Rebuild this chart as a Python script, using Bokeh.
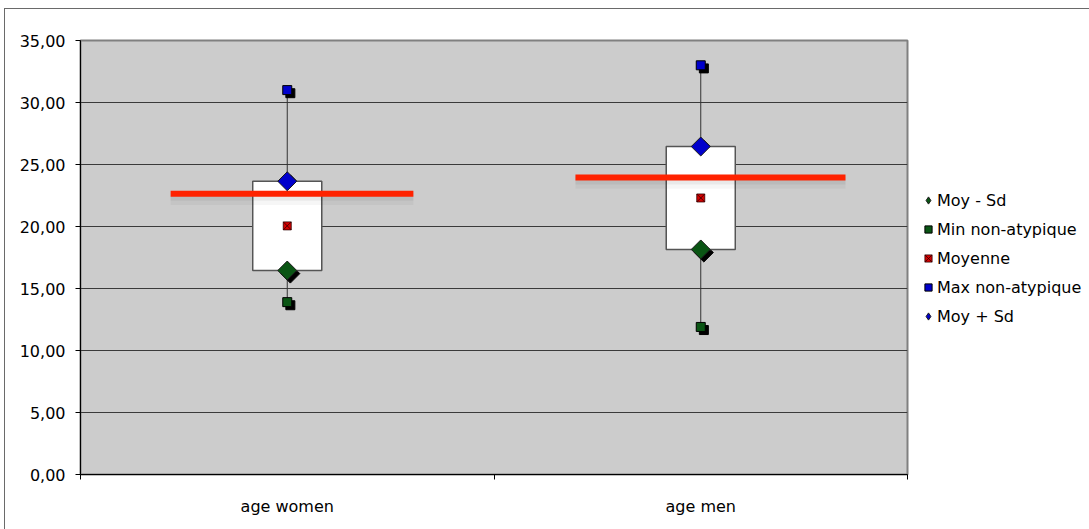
from bokeh.plotting import figure
from bokeh.models import ColumnDataSource, FixedTicker, Legend, LegendItem
from bokeh.transform import dodge
from bokeh.embed import file_html
from bokeh.resources import INLINE
import math

# ---- data ----
categories = ["age women", "age men"]
moy_moins_sd = [16.45, 18.15]
min_non_atypique = [13.9, 11.9]
moyenne = [20.05, 22.3]
max_non_atypique = [31.0, 33.0]
moy_plus_sd = [23.65, 26.45]
ligne_moyenne = [22.65, 23.95]
y_ticks = [0, 5, 10, 15, 20, 25, 30, 35]

FONT = "DejaVu Sans"

# category i is centred on i + 0.5 of a numeric axis running 0..n
xc = [i + 0.5 for i in range(len(categories))]
# horizontal extent of the red reference line around each category centre
line_left = [-0.282, -0.303]
line_right = [0.305, 0.350]

src = ColumnDataSource(dict(
    x=xc,
    lo=moy_moins_sd, mn=min_non_atypique, moy=moyenne,
    mx=max_non_atypique, hi=moy_plus_sd,
    ref=ligne_moyenne,
    x0=[c + a for c, a in zip(xc, line_left)],
    x1=[c + b for c, b in zip(xc, line_right)],
))

p = figure(frame_width=827, frame_height=434, output_backend="svg", toolbar_location=None,
           x_range=(0, len(categories)), y_range=(0, 35),
           min_border_left=75, min_border_right=177,
           min_border_top=31, min_border_bottom=55,
           background_fill_color="#cccccc", border_fill_color="white",
           outline_line_color="#808080", outline_line_width=2)

# outer chart frame (top and left edges visible in the window)
p.styles = {"margin-left": "4px", "margin-top": "8px",
            "border-left": "1px solid #6a6a6a", "border-top": "1px solid #6a6a6a"}

# grid
p.xgrid.grid_line_color = None
p.ygrid.ticker = FixedTicker(ticks=y_ticks)
p.ygrid.grid_line_color = "#3a3a3a"
p.ygrid.grid_line_width = 1

# y axis
p.yaxis.ticker = FixedTicker(ticks=y_ticks)
p.yaxis.major_label_overrides = {t: f"{t:.2f}".replace(".", ",") for t in y_ticks}
p.yaxis.axis_line_color = "black"
p.yaxis.major_tick_out = 5
p.yaxis.major_tick_in = 0
p.yaxis.minor_tick_line_color = None
p.yaxis.major_label_standoff = 10
p.yaxis.major_label_text_font = FONT
p.yaxis.major_label_text_font_size = "16px"
p.yaxis.major_label_text_color = "black"

# x axis: labels at category centres, tick marks between categories
p.xaxis.ticker = FixedTicker(ticks=xc, minor_ticks=list(range(len(categories) + 1)))
p.xaxis.major_label_overrides = {c: name for c, name in zip(xc, categories)}
p.xaxis.major_tick_out = 0
p.xaxis.major_tick_in = 0
p.xaxis.minor_tick_out = 5
p.xaxis.minor_tick_in = 0
p.xaxis.minor_tick_line_color = "black"
p.xaxis.axis_line_color = "black"
p.xaxis.major_label_standoff = 17
p.xaxis.major_label_text_font = FONT
p.xaxis.major_label_text_font_size = "16px"
p.xaxis.major_label_text_color = "black"

# whiskers from min to max
p.segment(x0="x", y0="mn", x1="x", y1="mx", source=src,
          line_color="#333333", line_width=1)

# marker shadows
sx = dodge("x", 0.0075)
p.scatter(x=sx, y=dodge("mn", -0.25), source=src, marker="square", size=9,
          fill_color="black", line_color="black")
p.scatter(x=sx, y=dodge("mx", -0.25), source=src, marker="square", size=9,
          fill_color="black", line_color="black")
p.scatter(x=sx, y=dodge("lo", -0.25), source=src, marker="square", size=13.4,
          angle=math.pi / 4, fill_color="black", line_color="black")
p.scatter(x=sx, y=dodge("hi", -0.25), source=src, marker="square", size=13.4,
          angle=math.pi / 4, fill_color="black", line_color="black")

# box from (mean - sd) to (mean + sd)
p.vbar(x="x", width=0.167, bottom="lo", top="hi", source=src,
       fill_color="white", line_color="#555555", line_width=1.5)

# red reference line with its soft shadow
p.segment(x0="x0", y0=dodge("ref", -0.35), x1="x1", y1=dodge("ref", -0.35), source=src,
          line_color="black", line_alpha=0.035, line_width=14)
p.segment(x0="x0", y0=dodge("ref", -0.25), x1="x1", y1=dodge("ref", -0.25), source=src,
          line_color="black", line_alpha=0.05, line_width=8)
p.segment(x0="x0", y0="ref", x1="x1", y1="ref", source=src,
          line_color="#ff2200", line_width=6)

GREEN, BLUE, RED = "#0a5514", "#0000cc", "#d40000"

# diamond keys for the legend: same points, covered by the larger rotated squares
k_lo = p.scatter(x="x", y="lo", source=src, marker="diamond", size=12,
                 fill_color=GREEN, line_color="#1a1a1a", line_width=1)
k_hi = p.scatter(x="x", y="hi", source=src, marker="diamond", size=12,
                 fill_color=BLUE, line_color="#1a1a1a", line_width=1)

# markers
r_lo = p.scatter(x="x", y="lo", source=src, marker="square", size=13.4,
                 angle=math.pi / 4, fill_color=GREEN, line_color="#1a1a1a", line_width=1)
r_mn = p.scatter(x="x", y="mn", source=src, marker="square", size=9,
                 fill_color=GREEN, line_color="black", line_width=1)
r_moy = p.scatter(x="x", y="moy", source=src, marker="square_x", size=8,
                  fill_color=RED, line_color="#300000", line_width=0.8)
r_mx = p.scatter(x="x", y="mx", source=src, marker="square", size=9,
                 fill_color=BLUE, line_color="black", line_width=1)
r_hi = p.scatter(x="x", y="hi", source=src, marker="square", size=13.4,
                 angle=math.pi / 4, fill_color=BLUE, line_color="#1a1a1a", line_width=1)

legend = Legend(items=[
    LegendItem(label="Moy - Sd", renderers=[k_lo]),
    LegendItem(label="Min non-atypique", renderers=[r_mn]),
    LegendItem(label="Moyenne", renderers=[r_moy]),
    LegendItem(label="Max non-atypique", renderers=[r_mx]),
    LegendItem(label="Moy + Sd", renderers=[k_hi]),
], location=(12, 148), orientation="vertical",
    glyph_width=18, glyph_height=20, label_height=20, spacing=9,
    label_standoff=0, padding=0, margin=0,
    border_line_alpha=0, background_fill_alpha=0,
    label_text_font=FONT, label_text_font_size="16px", label_text_color="black")
p.add_layout(legend, "right")

open("out.html", "w").write(file_html(p, INLINE))
